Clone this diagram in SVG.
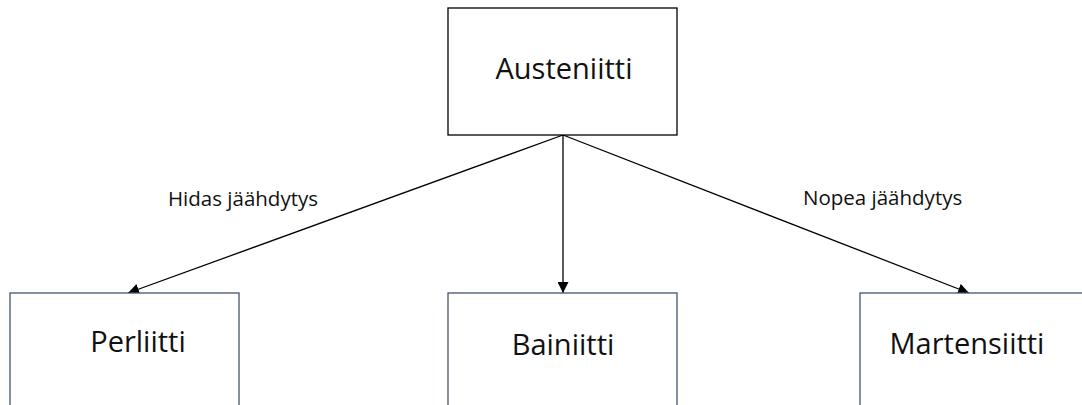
<svg xmlns="http://www.w3.org/2000/svg" width="1082" height="405" viewBox="0 0 1082 405">
<style>
.top{fill:#fff;stroke:#000;stroke-width:1.3}
.box{fill:#fff;stroke:#44546a;stroke-width:1.3}
.big{font-family:"Open Sans",sans-serif;font-size:29px;fill:#111;text-anchor:middle}
.lbl{font-family:"Open Sans",sans-serif;font-size:20.5px;fill:#111}
.c{stroke:#000;stroke-width:1.3;fill:none;marker-end:url(#ah)}
</style>
<defs>
<marker id="ah" viewBox="0 0 10 10" refX="10" refY="5" markerWidth="11" markerHeight="11" markerUnits="userSpaceOnUse" orient="auto">
<path d="M0,0 L10,5 L0,10 z" fill="#000"/>
</marker>
</defs>
<g id="connectors">
<line class="c" x1="563" y1="135" x2="128" y2="293"/>
<line class="c" x1="563" y1="135" x2="563" y2="293"/>
<line class="c" x1="563" y1="135" x2="969" y2="293"/>
<text class="lbl" x="168" y="206">Hidas jäähdytys</text>
<text class="lbl" x="803" y="205">Nopea jäähdytys</text>
</g>
<g id="austeniitti">
<rect class="top" x="448" y="8" width="229" height="127"/>
<text class="big" x="564" y="79">Austeniitti</text>
</g>
<g id="perliitti">
<rect class="box" x="10" y="293" width="229" height="130"/>
<text class="big" x="138" y="352">Perliitti</text>
</g>
<g id="bainiitti">
<rect class="box" x="448" y="293" width="229" height="130"/>
<text class="big" x="563" y="355">Bainiitti</text>
</g>
<g id="martensiitti">
<rect class="box" x="860" y="293" width="240" height="130"/>
<text class="big" x="967" y="354">Martensiitti</text>
</g>
</svg>
